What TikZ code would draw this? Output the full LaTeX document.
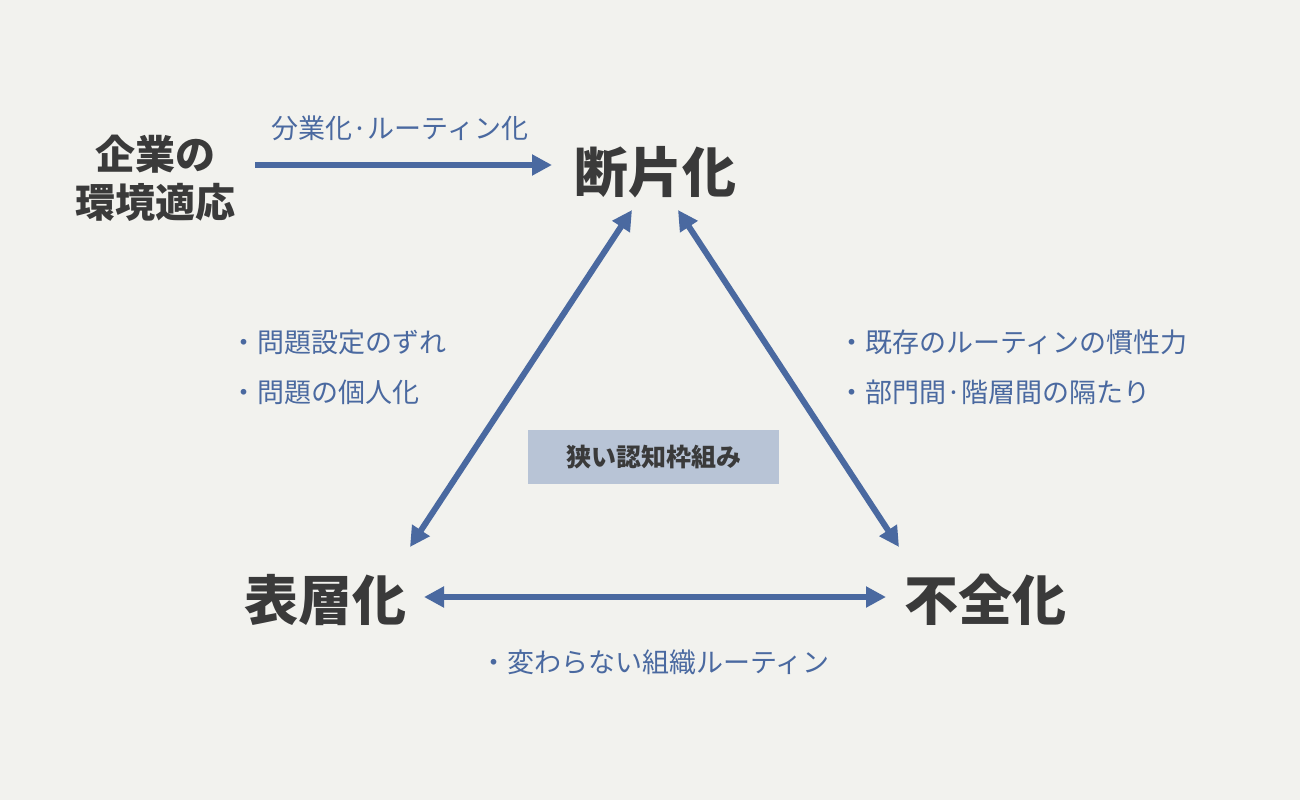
\documentclass[tikz,border=0pt]{standalone}
\usepackage{fontspec}
\setmainfont{Noto Sans CJK JP}
\usetikzlibrary{arrows.meta}
\definecolor{bg}{HTML}{F2F2EE}
\definecolor{ab}{HTML}{4A69A0}
\definecolor{dk}{HTML}{3A3A3A}
\definecolor{bx}{HTML}{B8C4D6}
\tikzset{
 big/.style={text=dk,font=\fontsize{54}{60}\selectfont\bfseries,inner sep=0},
 lab/.style={text=ab,font=\fontsize{27}{30}\selectfont,inner sep=0},
 arr/.style={draw=ab,line width=6pt,{Triangle[length=20pt,width=20pt]}-{Triangle[length=20pt,width=20pt]}},
 arr1/.style={draw=ab,line width=6pt,-{Triangle[length=20pt,width=20pt]}}
}
\begin{document}
\begin{tikzpicture}[x=1pt,y=-1pt]
\fill[bg] (0,0) rectangle (1300,800);
\useasboundingbox (0,0) rectangle (1300,800);
\node[big] (dan) at (655,172) {断片化};
\node[big] (hyo) at (325,600) {表層化};
\node[big] (fu) at (985,600) {不全化};
\node[text=dk,font=\fontsize{40}{48}\selectfont\bfseries,align=center,inner sep=0] (kig) at (155,178) {企業の\\環境適応};
\coordinate (a1) at (255,165); \coordinate (a2) at (552,165);
\draw[arr1] (a1) -- (a2);
\node[lab] (l0) at (400,128) {分業化·ルーティン化};
\coordinate (p1) at (632,210); \coordinate (p2) at (410,547);
\draw[arr] (p1) -- (p2);
\coordinate (q1) at (678,210); \coordinate (q2) at (899,547);
\draw[arr] (q1) -- (q2);
\coordinate (r1) at (424,597); \coordinate (r2) at (886,597);
\draw[arr] (r1) -- (r2);
\node[lab,anchor=west] (l1) at (230,342) {・問題設定のずれ};
\node[lab,anchor=west] (l2) at (230,392) {・問題の個人化};
\node[lab,anchor=west] (l3) at (838,342) {・既存のルーティンの慣性力};
\node[lab,anchor=west] (l4) at (838,392) {・部門間·階層間の隔たり};
\node[lab] (l5) at (655,662) {・変わらない組織ルーティン};
\fill[bx] (528,430) rectangle (779,484);
\node[text=dk,font=\fontsize{25}{30}\selectfont\bfseries,inner sep=0] (box) at (653.5,457) {狭い認知枠組み};
\end{tikzpicture}
\end{document}
